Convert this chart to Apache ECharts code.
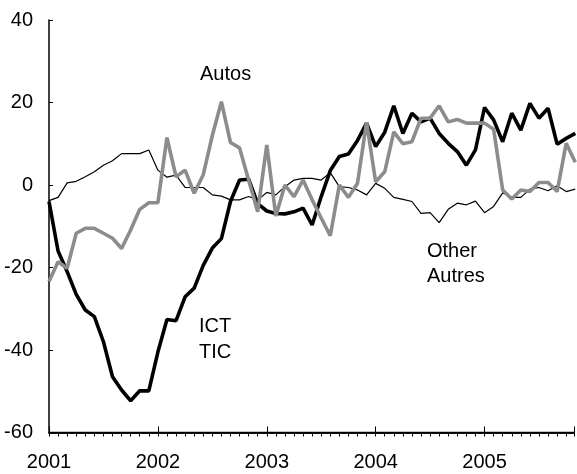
<!DOCTYPE html>
<html>
<head>
<meta charset="utf-8">
<title>ICT / Autos / Other</title>
<style>
  html, body { margin: 0; padding: 0; background: #fff; }
  #main { width: 577px; height: 474px; }
</style>
</head>
<body>
<div id="main"></div>
<script src="https://cdn.jsdelivr.net/npm/echarts@6/dist/echarts.min.js"></script>
<script>
// monthly values, Jan 2001 onwards
var yearLabels = ['2001', '2002', '2003', '2004', '2005'];
var yTicks = [-60, -20, 0, 20, 40];

var ict = [
  -4, -16, -21, -26.5, -30.3, -31.9, -38, -46.5, -49.7, -52.3, -49.9, -49.9,
  -40.5, -32.6, -32.9, -27.1, -25, -19.5, -15.3, -13, -4, 1.2, 1.4, -4.5,
  -6.3, -6.9, -7, -6.5, -5.6, -9.7, -2.8, 3.5, 6.9, 7.5, 10.8, 15,
  9.3, 12.8, 19.2, 12.5, 17.4, 15.3, 16.2, 12.5, 10.1, 8.1, 4.8, 8.5,
  18.8, 15.8, 10.5, 17.4, 13.3, 19.8, 16.2, 18.6, 9.9, 11.3, 12.5
];
var autos = [
  -23.4, -18.6, -20.2, -11.7, -10.5, -10.5, -11.7, -12.9, -15.4, -10.9, -5.9, -4.3,
  -4.3, 11.5, 2, 3.6, -2, 2.5, 12, 20.2, 10.3, 9, 1.2, -6.5,
  9.7, -7.5, 0, -2.8, 1.2, -3.6, -8, -12.3, 0, -3, 0.4, 15.2,
  0.8, 3.2, 12.9, 10, 10.5, 16.2, 16.2, 19.2, 15.3, 15.9, 15, 15,
  15, 13.5, -1.2, -3.4, -1.2, -1.6, 0.6, 0.6, -1.6, 10.1, 5.5
];
var other = [
  -3.8, -3, 0.5, 0.9, 2, 3.2, 4.8, 5.9, 7.6, 7.6, 7.6, 8.5,
  3.6, 1.9, 2.4, -0.6, -0.6, -0.6, -2.4, -2.7, -3.6, -3.6, -2.8, -3.6,
  -1.8, -2.4, -0.4, 1.2, 1.6, 1.6, 1.2, 3, -0.4, -0.6, -1.2, -2.4,
  0.4, -0.8, -3, -3.5, -4, -6.9, -6.7, -9.1, -5.9, -4.4, -4.8, -3.9,
  -6.7, -5.2, -1.9, -3, -3, -1, -0.6, -1.4, -0.2, -1.6, -1
];

function toPairs(arr) {
  return arr.map(function (v, i) { return [i, v]; });
}

var font = 'Liberation Sans, Arial, sans-serif';
var xMax = 57.86;   // plot is cut at the right edge, a little before Dec 2005
var myChart = echarts.init(document.getElementById('main'));

// the x axes sit "on zero" of a hidden 0..1 y axis, i.e. on the bottom edge
var bottomLine = { show: true, onZero: true, onZeroAxisIndex: 1, lineStyle: { color: '#000', width: 1.5 } };

var labels = [
  { type: 'text', left: 200, top: 64, style: { text: 'Autos', font: '20px ' + font, fill: '#000' } },
  { type: 'text', left: 199, top: 313, style: { text: 'ICT\nTIC', font: '20px ' + font, fill: '#000', lineHeight: 26.5 } },
  { type: 'text', left: 427, top: 239, style: { text: 'Other\nAutres', font: '20px ' + font, fill: '#000', lineHeight: 25 } }
];

var option = {
  animation: false,
  backgroundColor: '#fff',
  grid: { left: 49, top: 20, right: 0, bottom: 41.5 },
  xAxis: [
    {
      // years: labels and longer ticks
      type: 'value',
      min: 0,
      max: xMax,
      interval: 12,
      splitLine: { show: false },
      axisLine: bottomLine,
      axisTick: { show: true, inside: true, length: 6, lineStyle: { color: '#000', width: 1 } },
      axisLabel: {
        margin: 20,
        color: '#000',
        fontSize: 20,
        fontFamily: font,
        formatter: function (v) {
          return v % 12 === 0 ? (yearLabels[v / 12] || '') : '';
        }
      }
    },
    {
      // months: short ticks only
      type: 'value',
      min: 0,
      max: xMax,
      interval: 1,
      splitLine: { show: false },
      axisLine: bottomLine,
      axisTick: { show: true, inside: true, length: 4, lineStyle: { color: '#000', width: 1 } },
      axisLabel: { show: false }
    }
  ],
  yAxis: [
    {
      type: 'value',
      min: yTicks[0],
      max: yTicks[yTicks.length - 1],
      interval: 20,
      splitLine: { show: false },
      axisLine: { show: true, onZero: false, lineStyle: { color: '#000', width: 1.5 } },
      axisTick: { show: true, inside: true, length: 4, lineStyle: { color: '#000', width: 1 } },
      axisLabel: { margin: 16, color: '#000', fontSize: 20, fontFamily: font }
    },
    {
      type: 'value',
      min: 0,
      max: 1,
      show: false
    }
  ],
  series: [
    {
      name: 'Other', type: 'line', data: toPairs(other), symbol: 'none',
      lineStyle: { color: '#000', width: 1.2 }, z: 2
    },
    {
      name: 'ICT', type: 'line', data: toPairs(ict), symbol: 'none',
      lineStyle: { color: '#000', width: 3.6 }, z: 3
    },
    {
      name: 'Autos', type: 'line', data: toPairs(autos), symbol: 'none',
      lineStyle: { color: '#8c8c8c', width: 3.6 }, z: 4
    }
  ],
  graphic: labels
};

myChart.setOption(option);

// bottom axis rule, placed through the chart's own scales
var p0 = myChart.convertToPixel({ xAxisIndex: 0, yAxisIndex: 0 }, [0, yTicks[0]]);
var p1 = myChart.convertToPixel({ xAxisIndex: 0, yAxisIndex: 0 }, [xMax, yTicks[0]]);
myChart.setOption({
  graphic: labels.concat([{
    type: 'line',
    silent: true,
    z: 100,
    shape: { x1: p0[0], y1: p0[1], x2: p1[0], y2: p1[1] },
    style: { stroke: '#000', lineWidth: 1.5 }
  }])
});
</script>
</body>
</html>
